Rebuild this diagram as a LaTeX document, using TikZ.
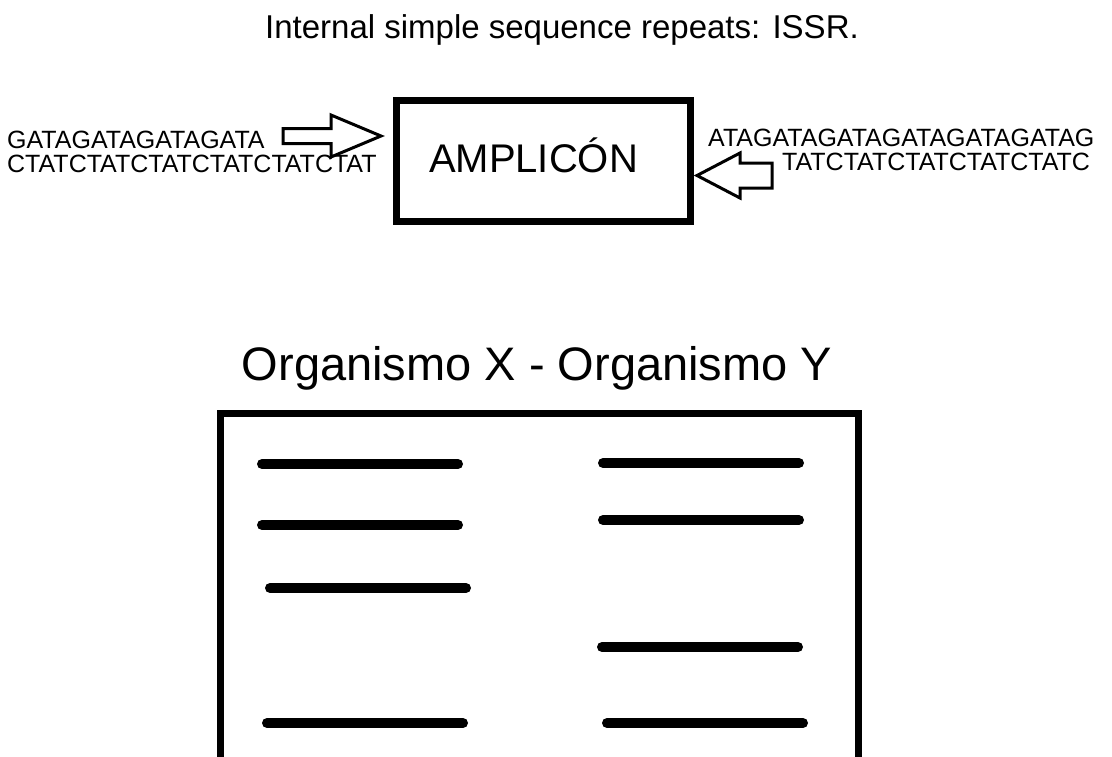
\documentclass[tikz,border=0pt]{standalone}
\usepackage{fontspec}
\setmainfont{Liberation Sans}
\usetikzlibrary{positioning}
\tikzset{
  titletext/.style={font=\fontsize{33}{33}\selectfont, inner sep=0pt, anchor=base},
  seqtext/.style={font=\fontsize{25}{25}\selectfont, inner sep=0pt, anchor=base west},
  amptext/.style={font=\fontsize{40}{40}\selectfont, inner sep=0pt, anchor=base},
  orgtext/.style={font=\fontsize{47}{47}\selectfont, inner sep=0pt, anchor=base},
  ampbox/.style={draw, line width=7pt, minimum width=294pt, minimum height=121pt, inner sep=0pt},
  gelframe/.style={line width=7pt, line join=miter},
  blockarrow/.style={draw, line width=3pt, line join=miter, fill=white},
  band/.style={line width=10pt, line cap=round}
}
\begin{document}
\begin{tikzpicture}[x=1pt,y=-1pt]
  \useasboundingbox (0,0) rectangle (1112,756);
  \node[titletext] (title) at (562,38) {Internal simple sequence repeats: ISSR.};
  % primers and amplicon
  \node[ampbox] (amp) at (543,160.5) {};
  \node[amptext] (amplabel) at (533.5,172) {AMPLICÓN};
  \node[seqtext] (fwdtop) at (7,148) {GATAGATAGATAGATA};
  \node[seqtext] (fwdbot) at (7,172) {CTATCTATCTATCTATCTATCTAT};
  \node[seqtext] (revtop) at (708,146) {ATAGATAGATAGATAGATAGATAG};
  \node[seqtext] (revbot) at (782,170) {TATCTATCTATCTATCTATC};
  \draw[blockarrow] (283,128.5) -- (331,128.5) -- (331,115) -- (381,136)
    -- (331,157) -- (331,143.5) -- (283,143.5) -- cycle;
  \draw[blockarrow] (772,163) -- (740,163) -- (740,153) -- (697,175.5)
    -- (740,198) -- (740,188) -- (772,188) -- cycle;
  % gel
  \node[orgtext] (org) at (537,380) {Organismo X - Organismo Y};
  \draw[gelframe] (220,765) |- (858,413) -- (858,765);
  \foreach \xa/\y in {262/464, 262/525, 270/588, 267/723}
    \draw[band] (\xa,\y) -- ++(196,0);
  \foreach \xa/\y in {603/463, 603/520, 602/647, 607/723}
    \draw[band] (\xa,\y) -- ++(196,0);
\end{tikzpicture}
\end{document}
